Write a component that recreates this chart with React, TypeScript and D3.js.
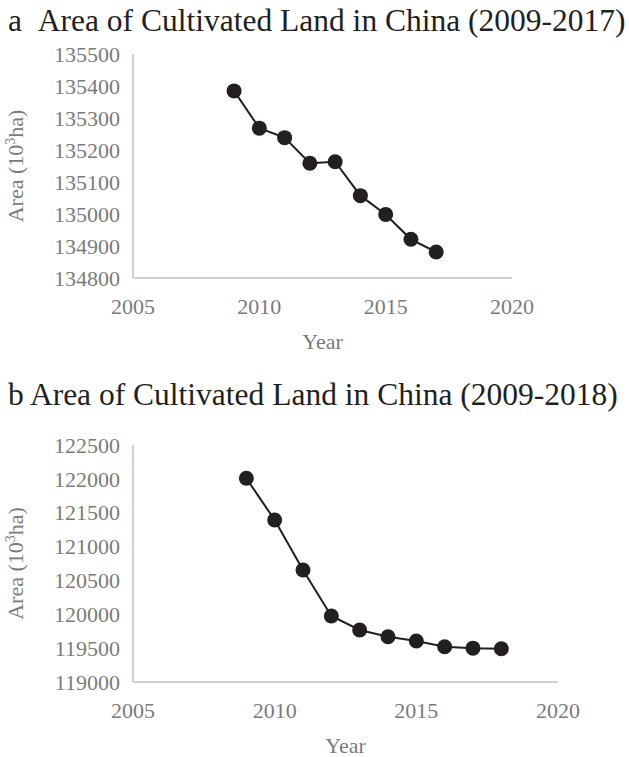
import React from "react";
import * as d3 from "d3";

const yearsA = [2009, 2010, 2011, 2012, 2013, 2014, 2015, 2016, 2017];
const areaA = [135384.6, 135268.3, 135238.6, 135158.5, 135163.4, 135057.3, 134998.7, 134920.9, 134881.2];
const yTicksA = [134800, 134900, 135000, 135100, 135200, 135300, 135400, 135500];

const yearsB = [2009, 2010, 2011, 2012, 2013, 2014, 2015, 2016, 2017, 2018];
const areaB = [122008, 121392, 120654, 119975, 119768, 119669, 119605, 119521, 119500, 119492];
const yTicksB = [119000, 119500, 120000, 120500, 121000, 121500, 122000, 122500];

const xTicks = [2005, 2010, 2015, 2020];

const titleA = "a\u00a0\u00a0Area of Cultivated Land in China (2009-2017)";
const titleB = "b Area of Cultivated Land in China (2009-2018)";

const FONT = "'Liberation Serif', 'Times New Roman', serif";
const GREY = "#7b7b7b";
const AXIS = "#d0d0d0";
const INK = "#231f20";

type PanelProps = {
  title: string;
  titleY: number;
  years: number[];
  values: number[];
  yTicks: number[];
  x0: number;
  x1: number;
  yTop: number;
  yBottom: number;
};

function Panel({ title, titleY, years, values, yTicks, x0, x1, yTop, yBottom }: PanelProps) {
  const x = d3.scaleLinear().domain([2005, 2020]).range([x0, x1]);
  const y = d3
    .scaleLinear()
    .domain([yTicks[0], yTicks[yTicks.length - 1]])
    .range([yBottom, yTop]);
  const pts = years.map((yr, i) => [x(yr), y(values[i])] as [number, number]);
  const line = d3.line()(pts) || "";
  const midY = (yTop + yBottom) / 2;
  return (
    <g>
      <text x={8} y={titleY} fontFamily={FONT} fontSize={31.5} fill={INK}>
        {title}
      </text>
      <line x1={x0} x2={x0} y1={yTop} y2={yBottom} stroke={AXIS} strokeWidth={2} />
      <line x1={x0} x2={x1} y1={yBottom} y2={yBottom} stroke={AXIS} strokeWidth={2} />
      {yTicks.map((t) => (
        <text
          key={t}
          x={x0 - 13}
          y={y(t)}
          dy="0.35em"
          textAnchor="end"
          fontFamily={FONT}
          fontSize={22}
          fill={GREY}
        >
          {t}
        </text>
      ))}
      {xTicks.map((t) => (
        <text
          key={t}
          x={x(t)}
          y={yBottom + 28}
          dy="0.35em"
          textAnchor="middle"
          fontFamily={FONT}
          fontSize={22}
          fill={GREY}
        >
          {t}
        </text>
      ))}
      <text
        x={(x0 + x1) / 2}
        y={yBottom + 63}
        dy="0.35em"
        textAnchor="middle"
        fontFamily={FONT}
        fontSize={22}
        fill={GREY}
      >
        Year
      </text>
      <text
        transform={`translate(23, ${midY}) rotate(-90)`}
        textAnchor="middle"
        fontFamily={FONT}
        fontSize={22}
        fill={GREY}
      >
        Area (10
        <tspan fontSize={14} dy={-8}>3</tspan>
        <tspan dy={8}>ha)</tspan>
      </text>
      <path d={line} fill="none" stroke={INK} strokeWidth={2} />
      {pts.map((p, i) => (
        <circle key={i} cx={p[0]} cy={p[1]} r={7.5} fill={INK} />
      ))}
    </g>
  );
}

export default function App() {
  return (
    <svg
      width={629}
      height={757}
      style={{ position: "absolute", left: 0, top: 0, background: "#fff" }}
    >
      <rect width={629} height={757} fill="#fff" />
      <Panel
        title={titleA}
        titleY={31}
        years={yearsA}
        values={areaA}
        yTicks={yTicksA}
        x0={133}
        x1={512}
        yTop={54}
        yBottom={278}
      />
      <Panel
        title={titleB}
        titleY={405}
        years={yearsB}
        values={areaB}
        yTicks={yTicksB}
        x0={133}
        x1={558}
        yTop={445}
        yBottom={682}
      />
    </svg>
  );
}
